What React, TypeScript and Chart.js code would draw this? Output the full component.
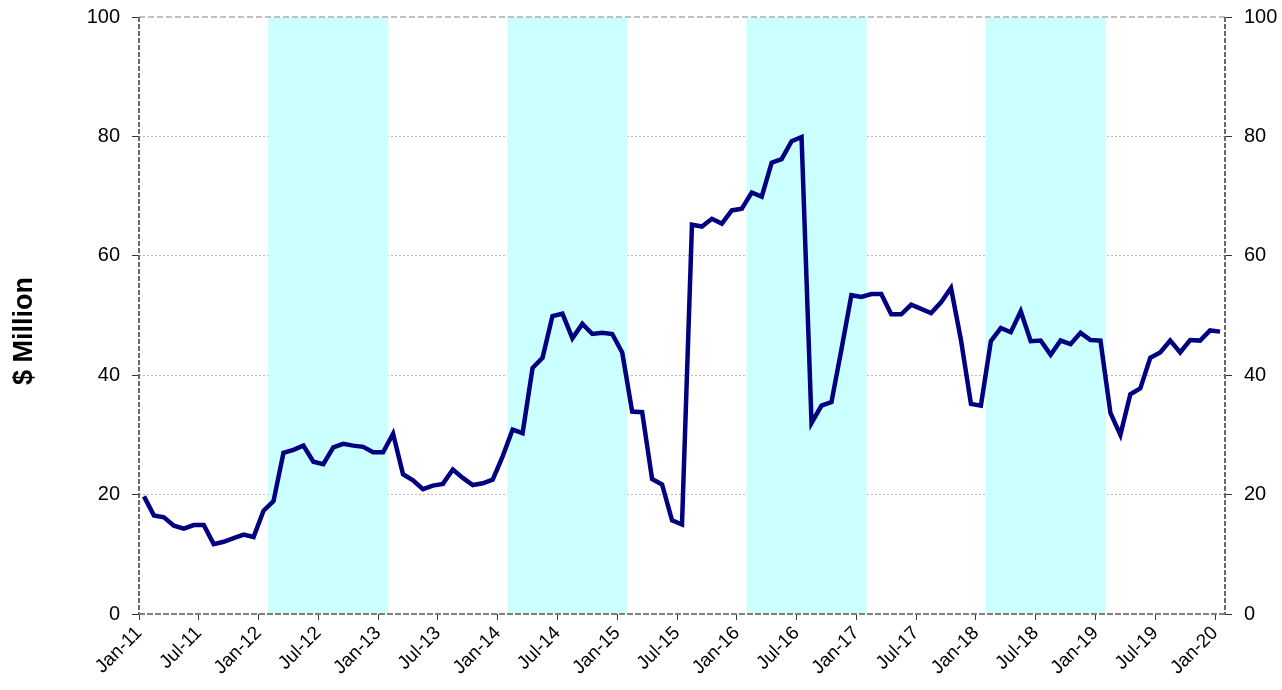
import React, { useEffect, useRef } from 'react';
import { Chart, registerables } from 'chart.js';

Chart.register(...registerables);

const monthNames = ['Jan', 'Feb', 'Mar', 'Apr', 'May', 'Jun', 'Jul', 'Aug', 'Sep', 'Oct', 'Nov', 'Dec'];
const yearSuffixes = ['11', '12', '13', '14', '15', '16', '17', '18', '19', '20'];
const categories: string[] = [];
for (const yr of yearSuffixes) {
  for (const m of monthNames) {
    if (categories.length < 109) categories.push(`${m}-${yr}`);
  }
}

// $ Million, monthly Jan-11 .. Jan-20
const values: number[] = [
  19.7, 16.5, 16.2, 14.8, 14.3, 14.9, 14.9, 11.7, 12.1, 12.7, 13.3, 12.9,
  17.3, 18.9, 27.0, 27.5, 28.2, 25.5, 25.1, 27.9, 28.5, 28.2, 28.0, 27.1,
  27.1, 30.2, 23.4, 22.4, 20.9, 21.5, 21.8, 24.2, 22.8, 21.6, 21.9, 22.5,
  26.4, 30.9, 30.3, 41.2, 42.9, 49.9, 50.3, 46.2, 48.6, 46.9, 47.1, 46.9,
  43.8, 33.9, 33.8, 22.6, 21.7, 15.7, 15.0, 65.2, 64.9, 66.2, 65.4, 67.6,
  67.9, 70.6, 69.9, 75.6, 76.2, 79.2, 79.9, 32.0, 34.9, 35.5, 44.3, 53.4,
  53.1, 53.6, 53.6, 50.2, 50.2, 51.8, 51.1, 50.4, 52.2, 54.6, 45.9, 35.2,
  34.9, 45.7, 47.9, 47.2, 50.7, 45.7, 45.8, 43.4, 45.8, 45.2, 47.1, 45.9,
  45.8, 33.7, 30.0, 36.8, 37.8, 42.9, 43.8, 45.8, 43.8, 45.9, 45.8, 47.5,
  47.3,
];

const shadedRanges: [string, string][] = [
  ['Feb-12', 'Jan-13'],
  ['Feb-14', 'Jan-15'],
  ['Feb-16', 'Jan-17'],
  ['Feb-18', 'Jan-19'],
];

const yMin = 0;
const yMax = 100;
const yStep = 20;
const labelEvery = 6;
const yTitle = '$ Million';

const FONT = '"Liberation Sans", Arial, Helvetica, sans-serif';

const shadeData = categories.map((c, i) => {
  for (const [a, b] of shadedRanges) {
    const ia = categories.indexOf(a);
    const ib = categories.indexOf(b);
    if (i >= ia && i <= ib) return yMax;
  }
  return null;
});

const framePlugin = {
  id: 'frame',
  afterDatasetsDraw(chart: any) {
    const { ctx, chartArea } = chart;
    const { left, right, top, bottom } = chartArea;
    ctx.save();
    ctx.strokeStyle = '#c0c0c0';
    ctx.lineWidth = 2;
    ctx.setLineDash([6, 3]);
    ctx.beginPath();
    ctx.moveTo(left, top);
    ctx.lineTo(right, top);
    ctx.stroke();
    ctx.strokeStyle = '#6a6a6a';
    ctx.lineWidth = 2;
    ctx.setLineDash([5, 2]);
    ctx.beginPath();
    ctx.moveTo(left, top);
    ctx.lineTo(left, bottom);
    ctx.moveTo(right, top);
    ctx.lineTo(right, bottom);
    ctx.stroke();
    ctx.strokeStyle = '#808080';
    ctx.setLineDash([6, 2]);
    ctx.beginPath();
    ctx.moveTo(left, bottom);
    ctx.lineTo(right, bottom);
    ctx.stroke();
    ctx.restore();
  },
  afterDraw(chart: any) {
    const { ctx } = chart;
    ctx.save();
    ctx.translate(25, 331);
    ctx.rotate(-Math.PI / 2);
    ctx.font = `bold 27px ${FONT}`;
    ctx.fillStyle = '#000';
    ctx.textAlign = 'center';
    ctx.textBaseline = 'middle';
    ctx.fillText(yTitle, 0, 0);
    ctx.restore();
  },
};

const fixVertical = (w: number) => (s: any) => {
  s.width = w;
  s.paddingTop = 0;
  s.paddingBottom = 0;
};

export default function App() {
  const ref = useRef<HTMLCanvasElement | null>(null);
  useEffect(() => {
    if (!ref.current) return;
    const chart = new Chart(ref.current, {
      type: 'bar',
      data: {
        labels: categories,
        datasets: [
          {
            type: 'line',
            label: 'Value',
            data: values,
            borderColor: '#000080',
            backgroundColor: '#000080',
            borderWidth: 4.5,
            pointRadius: 0,
            tension: 0,
            fill: false,
            order: 0,
            yAxisID: 'y',
          } as any,
          {
            type: 'bar',
            label: 'Shade',
            data: shadeData,
            backgroundColor: '#CCFFFF',
            borderWidth: 0,
            barPercentage: 1,
            categoryPercentage: 1,
            order: 1,
            yAxisID: 'y',
          } as any,
        ],
      },
      options: {
        responsive: false,
        devicePixelRatio: 1,
        animation: false,
        events: [],
        layout: { padding: { top: 17, left: 0, right: 0, bottom: 0 } },
        plugins: {
          legend: { display: false },
          tooltip: { enabled: false },
          title: { display: false },
        },
        scales: {
          x: {
            type: 'category',
            offset: true,
            afterFit: (s: any) => { s.height = 76; s.paddingLeft = 0; s.paddingRight = 0; },
            grid: {
              offset: true,
              drawOnChartArea: false,
              drawTicks: true,
              tickLength: 6,
              tickWidth: 1,
              tickColor: (ctx: any) => (ctx.index % labelEvery === 0 ? '#333' : 'rgba(0,0,0,0)'),
            },
            border: { display: false },
            ticks: {
              autoSkip: false,
              maxRotation: 45,
              minRotation: 45,
              labelOffset: -5,
              padding: 2,
              color: '#000',
              font: { family: FONT, size: 19 },
              callback: (_v: any, i: number) => (i % labelEvery === 0 ? categories[i] : ''),
            },
          },
          y: {
            type: 'linear',
            position: 'left',
            min: yMin,
            max: yMax,
            afterFit: fixVertical(139),
            grid: {
              color: (ctx: any) => (ctx.tick && ctx.tick.value > yMin && ctx.tick.value < yMax ? '#b8b8b8' : 'rgba(0,0,0,0)'),
              lineWidth: 1,
              tickLength: 7,
              tickColor: '#333',
            },
            border: { display: false, dash: [2, 2] },
            ticks: {
              stepSize: yStep,
              padding: 12,
              color: '#000',
              font: { family: FONT, size: 20 },
            },
          },
          y2: {
            type: 'linear',
            position: 'right',
            min: yMin,
            max: yMax,
            afterFit: fixVertical(57),
            grid: {
              drawOnChartArea: false,
              tickLength: 7,
              tickColor: '#333',
            },
            border: { display: false },
            ticks: {
              stepSize: yStep,
              padding: 12,
              color: '#000',
              font: { family: FONT, size: 20 },
            },
          },
        },
      } as any,
      plugins: [framePlugin],
    });
    return () => chart.destroy();
  }, []);

  return (
    <div style={{ position: 'fixed', left: 0, top: 0, width: 1282, height: 690, background: '#fff' }}>
      <canvas ref={ref} width={1282} height={690} style={{ display: 'block' }} />
    </div>
  );
}
